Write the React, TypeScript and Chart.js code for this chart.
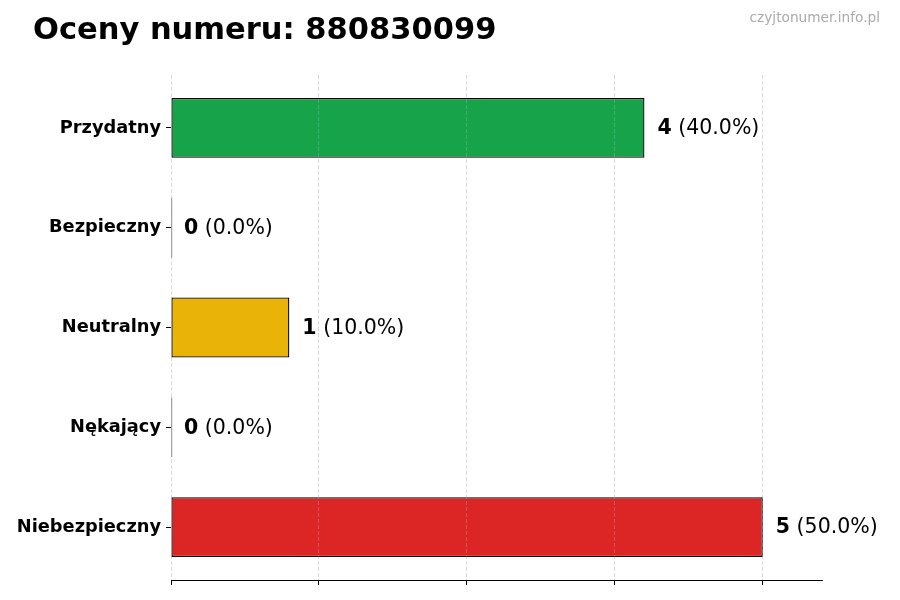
import React, { useEffect, useRef } from "react";
import { Chart, registerables, Plugin } from "chart.js";

Chart.register(...registerables);

// Data
const CATEGORIES = ["Przydatny", "Bezpieczny", "Neutralny", "Nękający", "Niebezpieczny"];
const COUNTS = [4, 0, 1, 0, 5];
const BAR_COLORS = ["#16a34a", "#22c55e", "#eab308", "#f97316", "#dc2626"];
const X_TICKS = [0, 1.25, 2.5, 3.75, 5];

const FONT = "'DejaVu Sans', sans-serif";

// value labels like "4 (40.0%)" next to each bar
const valueLabels: Plugin<"bar"> = {
  id: "valueLabels",
  afterDatasetsDraw(chart) {
    const ctx = chart.ctx;
    const meta = chart.getDatasetMeta(0);
    const total = COUNTS.reduce((s, v) => s + v, 0);
    ctx.save();
    ctx.textBaseline = "middle";
    ctx.fillStyle = "#000";
    meta.data.forEach((bar: any, i) => {
      const v = COUNTS[i];
      const pct = total ? ((v / total) * 100).toFixed(1) : "0.0";
      const x0 = chart.scales.x.getPixelForValue(v) + 13;
      const y = bar.y + 1;
      ctx.font = `bold 20.5px ${FONT}`;
      const num = String(v);
      ctx.fillText(num, x0, y);
      const w = ctx.measureText(num).width;
      ctx.font = `20.5px ${FONT}`;
      ctx.fillText(` (${pct}%)`, x0 + w, y);
    });
    ctx.restore();
  },
};

// redraw dashed x grid on top of the bars
const gridOnTop: Plugin<"bar"> = {
  id: "gridOnTop",
  afterDatasetsDraw(chart) {
    const sx: any = chart.scales.x;
    sx.drawGrid(chart.chartArea);
  },
};

const App: React.FC = () => {
  const canvasRef = useRef<HTMLCanvasElement | null>(null);
  const chartRef = useRef<Chart | null>(null);

  useEffect(() => {
    if (!canvasRef.current) return;
    const ctx = canvasRef.current.getContext("2d");
    if (!ctx) return;

    chartRef.current = new Chart(ctx, {
      type: "bar",
      data: {
        datasets: [
          {
            data: COUNTS.map((c, i) => ({ x: c, y: i })),
            backgroundColor: BAR_COLORS,
            borderColor: "#000",
            borderWidth: 1.3,
            borderSkipped: false,
            minBarLength: 1.3,
            categoryPercentage: 1,
            barPercentage: 0.6,
          },
        ],
      },
      options: {
        indexAxis: "y",
        responsive: true,
        maintainAspectRatio: false,
        animation: false,
        layout: { padding: { top: 75, right: 78, bottom: 15, left: 0 } },
        plugins: {
          legend: { display: false },
          tooltip: { enabled: false },
        },
        scales: {
          x: {
            type: "linear",
            min: 0,
            max: 5.5,
            afterBuildTicks: (scale) => {
              scale.ticks = X_TICKS.map((v) => ({ value: v }));
            },
            afterFit: (scale) => {
              scale.height = 5;
            },
            ticks: { display: false },
            grid: {
              color: "rgba(185,185,185,0.4)",
              lineWidth: 0.8,
              drawTicks: true,
              tickLength: 5,
              tickColor: "#000",
              tickWidth: 1,
            },
            border: { display: true, color: "#000", width: 1, dash: [4, 2] },
          },
          y: {
            type: "linear",
            reverse: true,
            offset: false,
            min: -0.53,
            max: 4.53,
            afterBuildTicks: (scale) => {
              scale.ticks = CATEGORIES.map((_, i) => ({ value: i }));
            },
            afterFit: (scale) => {
              scale.width = 171;
            },
            ticks: {
              color: "#000",
              padding: 5,
              font: { family: FONT, size: 17.8, weight: "bold" },
              callback: (v) => CATEGORIES[Number(v)] ?? "",
            },
            grid: {
              offset: false,
              drawOnChartArea: false,
              drawTicks: true,
              tickLength: 5,
              tickColor: "#000",
              tickWidth: 1,
            },
            border: { display: false },
          },
        },
      },
      plugins: [gridOnTop, valueLabels],
    });

    return () => {
      chartRef.current?.destroy();
      chartRef.current = null;
    };
  }, []);

  return (
    <div style={{ position: "fixed", left: 0, top: 0, width: 900, height: 600, background: "#fff" }}>
      <canvas ref={canvasRef} />
      <div
        style={{
          position: "absolute",
          left: 33,
          top: 11,
          fontFamily: FONT,
          fontWeight: "bold",
          fontSize: 30.5,
          lineHeight: "36px",
          color: "#000",
          whiteSpace: "nowrap",
        }}
      >
        Oceny numeru: 880830099
      </div>
      <div
        style={{
          position: "absolute",
          right: 20,
          top: 9,
          fontFamily: FONT,
          fontSize: 13.7,
          lineHeight: "16px",
          color: "#aaa",
          whiteSpace: "nowrap",
        }}
      >
        czyjtonumer.info.pl
      </div>
    </div>
  );
};

export default App;
